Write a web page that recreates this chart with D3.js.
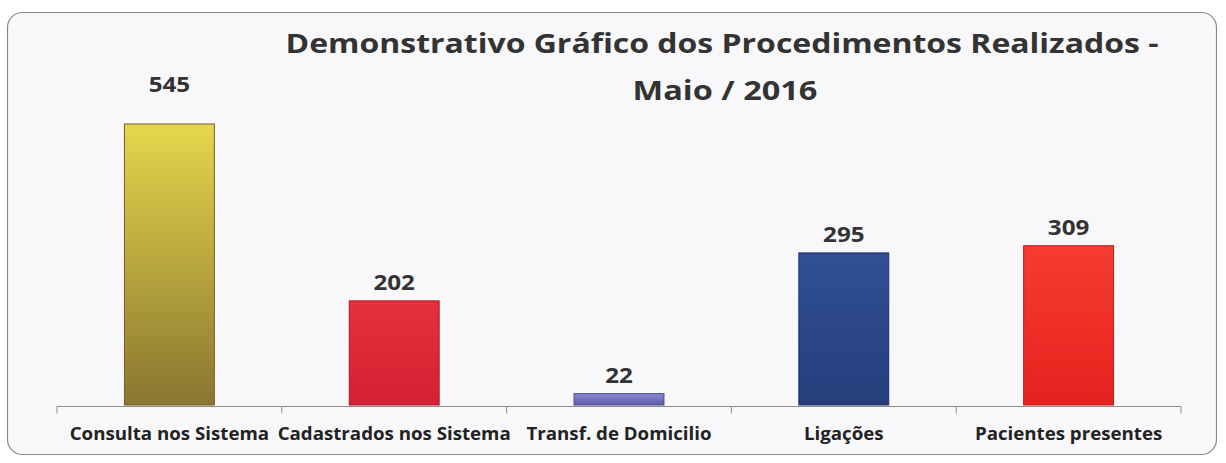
<!DOCTYPE html>
<html lang="pt">
<head>
<meta charset="UTF-8">
<title>Demonstrativo</title>
<script src="https://cdn.jsdelivr.net/npm/d3@7"></script>
<style>
  body { margin: 0; background: #fff; }
  text { font-family: "Open Sans", Lato, sans-serif; }
</style>
</head>
<body>
<svg id="chart" width="1226" height="463"></svg>
<script>
const categories = ["Consulta nos Sistema", "Cadastrados nos Sistema", "Transf. de Domicilio", "Ligações", "Pacientes presentes"];
const values = [545, 202, 22, 295, 309];
const barColors = [["#e6d64c", "#8a7630"], ["#e6303e", "#d42032"], ["#8c8ad2", "#5e5ca8"], ["#304f96", "#263f7c"], ["#f53c32", "#e6221e"]];

const svg = d3.select("#chart");

// frame
svg.append("rect")
  .attr("x", 7.5).attr("y", 12.5).attr("width", 1209).attr("height", 442)
  .attr("rx", 15)
  .attr("fill", "#f8f8fa").attr("stroke", "#8a8a8a").attr("stroke-width", 1.2);

const x = d3.scaleBand().domain(categories).range([57, 1181]).paddingInner(0.6).paddingOuter(0.3);
const y = d3.scaleLinear().domain([0, 545]).range([405, 124]);
const vmax = d3.max(values);

const defs = svg.append("defs");
barColors.forEach((c, i) => {
  const g = defs.append("linearGradient").attr("id", "g" + i)
    .attr("x1", 0).attr("y1", 0).attr("x2", 0).attr("y2", 1);
  g.append("stop").attr("offset", "0%").attr("stop-color", c[0]);
  g.append("stop").attr("offset", "100%").attr("stop-color", c[1]);
});

const data = categories.map((c, i) => ({ cat: c, v: values[i], i }));

svg.selectAll("rect.bar").data(data).enter().append("rect")
  .attr("class", "bar")
  .attr("x", d => x(d.cat))
  .attr("y", d => y(d.v))
  .attr("width", x.bandwidth())
  .attr("height", d => y(0) - y(d.v))
  .attr("fill", d => "url(#g" + d.i + ")")
  .attr("stroke", d => d3.color(barColors[d.i][1]).darker(0.6))
  .attr("stroke-width", 1);

// text is drawn a bit wider than the font, like the scanned original
function wide(sel, sx) {
  sel.attr("transform", function () {
    const t = d3.select(this);
    return `translate(${t.attr("x")},${t.attr("y")}) scale(${sx},1)`;
  }).attr("x", 0).attr("y", 0);
}

svg.selectAll("text.val").data(data).enter().append("text")
  .attr("class", "val")
  .attr("x", d => x(d.cat) + x.bandwidth() / 2)
  .attr("y", d => d.v === vmax ? y(d.v) - 32 : y(d.v) - 11)
  .attr("text-anchor", "middle")
  .attr("font-size", 22).attr("font-weight", "bold").attr("fill", "#333")
  .text(d => d.v)
  .call(wide, 1.1);

// axis, ticks at the band edges
const axisG = svg.append("g").attr("transform", "translate(0,406.5)");
axisG.append("line").attr("x1", 57).attr("x2", 1181).attr("stroke", "#8c8c8c");
const edges = d3.range(categories.length + 1).map(i => 57 + i * x.step());
axisG.selectAll("line.tick").data(edges).enter().append("line")
  .attr("class", "tick")
  .attr("x1", d => d).attr("x2", d => d).attr("y1", 0).attr("y2", 7)
  .attr("stroke", "#8c8c8c");

svg.selectAll("text.cat").data(data).enter().append("text")
  .attr("class", "cat")
  .attr("x", d => x(d.cat) + x.bandwidth() / 2)
  .attr("y", 440)
  .attr("text-anchor", "middle")
  .attr("font-size", 17).attr("font-weight", "bold").attr("fill", "#222")
  .text(d => d.cat)
  .call(wide, 1.1);

svg.append("text").attr("x", 722).attr("y", 53)
  .attr("text-anchor", "middle").attr("font-size", 26).attr("font-weight", "bold").attr("fill", "#333")
  .text("Demonstrativo Gráfico  dos Procedimentos Realizados -")
  .call(wide, 1.23);
svg.append("text").attr("x", 725).attr("y", 100)
  .attr("text-anchor", "middle").attr("font-size", 26).attr("font-weight", "bold").attr("fill", "#333")
  .text("Maio / 2016")
  .call(wide, 1.25);
</script>
</body>
</html>
